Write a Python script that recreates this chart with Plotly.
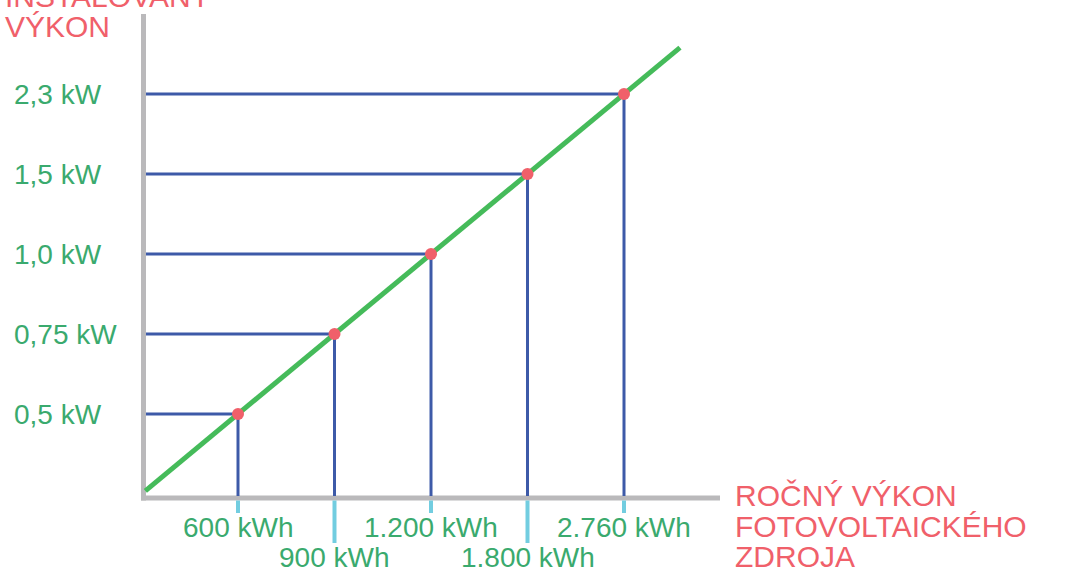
import plotly.graph_objects as go

# ---- data ----
energy_labels = ["600 kWh", "900 kWh", "1.200 kWh", "1.800 kWh", "2.760 kWh"]
power_labels = ["0,5 kW", "0,75 kW", "1,0 kW", "1,5 kW", "2,3 kW"]
x_pos = [1, 2, 3, 4, 5]
y_pos = [1, 2, 3, 4, 5]
trend_x = [0.04, 5.58]
trend_y = [0.04, 5.58]

x_title_lines = ["ROČNÝ VÝKON", "FOTOVOLTAICKÉHO", "ZDROJA"]
y_title_lines = ["INSTALOVANÝ", "VÝKON"]

# ---- style ----
FONT = "Liberation Sans, Arial, sans-serif"
GREEN_TXT = "#3aaa6e"
RED = "#f0606a"
BLUE = "#3d5aa8"
LINE_GREEN = "#45bb5a"
CYAN = "#72cde0"
GRAY = "#bab9bb"

W, H = 1075, 572
X0PX, XSTEP = 141.5, 96.5
Y0PX, YSTEP = 494.0, 80.0


def dx(px):
    return (px - X0PX) / XSTEP


def dy(py):
    return (Y0PX - py) / YSTEP


fig = go.Figure()

# axes (drawn as shapes)
axis_x = dx(143.5)
axis_y = dy(498)
fig.add_shape(type="line", x0=axis_x, x1=axis_x, y0=dy(500.5), y1=dy(14),
              line=dict(color=GRAY, width=5), layer="below")
fig.add_shape(type="line", x0=dx(141), x1=dx(720), y0=axis_y, y1=axis_y,
              line=dict(color=GRAY, width=5), layer="below")

# blue guide lines
hx, hy, vx, vy = [], [], [], []
for xv, yv in zip(x_pos, y_pos):
    hx += [dx(146), xv, None]
    hy += [yv, yv, None]
    vx += [xv, xv, None]
    vy += [yv, dy(496), None]
fig.add_trace(go.Scatter(x=hx + vx, y=hy + vy, mode="lines",
                         line=dict(color=BLUE, width=3), hoverinfo="skip"))

# cyan ticks (alternating lengths)
tx, ty = [], []
for i, xv in enumerate(x_pos):
    tx += [xv, xv, None]
    ty += [dy(500.5), dy(513 if i % 2 == 0 else 543), None]
fig.add_trace(go.Scatter(x=tx, y=ty, mode="lines",
                         line=dict(color=CYAN, width=4), hoverinfo="skip"))

# green trend line
fig.add_trace(go.Scatter(x=trend_x, y=trend_y, mode="lines",
                         line=dict(color=LINE_GREEN, width=5), hoverinfo="skip"))

# red points
fig.add_trace(go.Scatter(x=x_pos, y=y_pos, mode="markers",
                         marker=dict(color=RED, size=12), hoverinfo="skip"))

ann = []
# x tick labels
for i, (xv, lab) in enumerate(zip(x_pos, energy_labels)):
    ann.append(dict(x=xv, y=dy(527 if i % 2 == 0 else 557), text=lab,
                    showarrow=False, xanchor="center", yanchor="middle",
                    font=dict(family=FONT, size=28, color=GREEN_TXT)))
# y tick labels
for yv, lab in zip(y_pos, power_labels):
    ann.append(dict(x=dx(12), y=yv, text=lab, showarrow=False,
                    xanchor="left", yanchor="middle",
                    font=dict(family=FONT, size=28, color=GREEN_TXT)))
# x title
for py, line in zip([495, 526, 556], x_title_lines):
    ann.append(dict(x=dx(733), y=dy(py), text=line, showarrow=False,
                    xanchor="left", yanchor="middle",
                    font=dict(family=FONT, size=30, color=RED)))
# y title (first line partly above the top edge, as in the reference)
for py, line in zip([-4, 26], y_title_lines):
    anchor_py = max(py, 1)
    ann.append(dict(x=dx(3), y=dy(anchor_py), yshift=anchor_py - py,
                    text=line, showarrow=False,
                    xanchor="left", yanchor="middle",
                    font=dict(family=FONT, size=30, color=RED)))

fig.update_layout(
    width=W, height=H,
    margin=dict(l=0, r=0, t=0, b=0),
    paper_bgcolor="white", plot_bgcolor="white",
    showlegend=False,
    xaxis=dict(range=[dx(0), dx(W)], visible=False, fixedrange=True),
    yaxis=dict(range=[dy(H), dy(0)], visible=False, fixedrange=True),
    annotations=ann,
)

fig.write_html(
    "out.html",
    config={"displayModeBar": False},
    post_script="document.body.style.margin='0';document.body.style.overflow='hidden';",
)
